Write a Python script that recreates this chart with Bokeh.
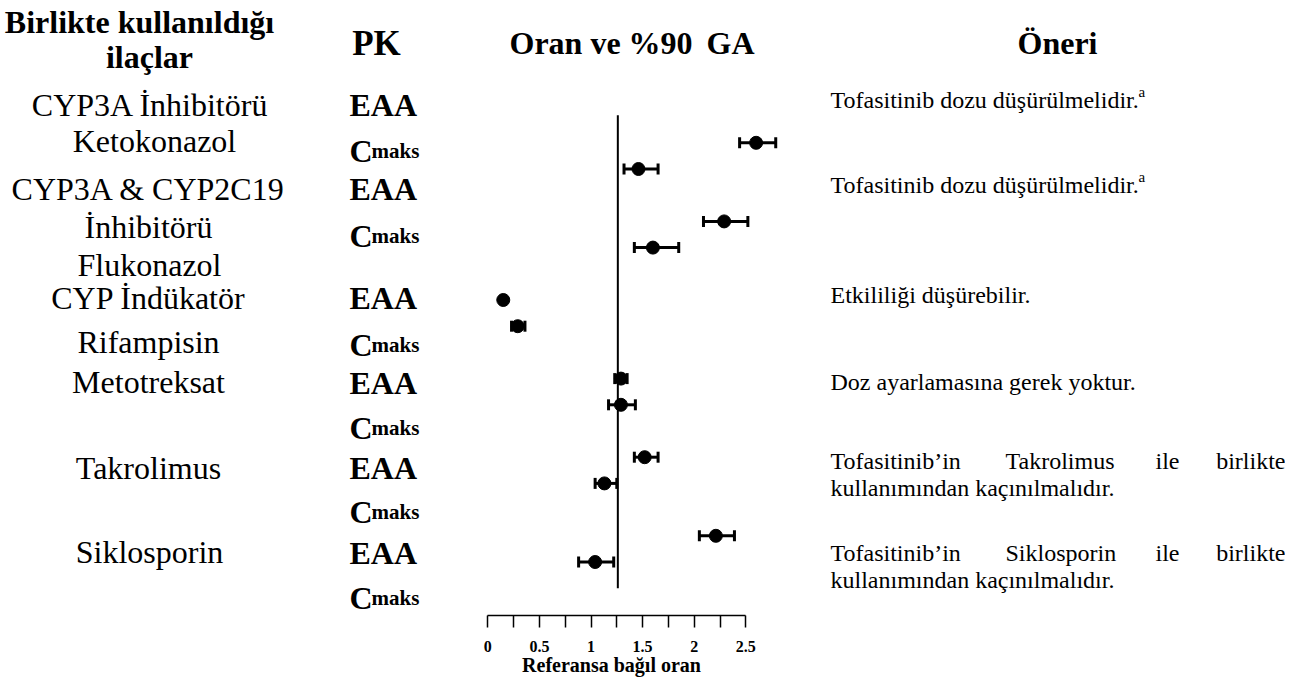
import numpy as np
from bokeh.plotting import figure
from bokeh.models import Range1d, LinearAxis, FixedTicker
from bokeh.core.properties import value
from bokeh.embed import file_html
from bokeh.resources import INLINE

# ---------------- data ----------------
drug_lines = ["CYP3A İnhibitörü", "Ketokonazol",
              "CYP3A & CYP2C19", "İnhibitörü", "Flukonazol",
              "CYP İndükatör", "Rifampisin",
              "Metotreksat", "Takrolimus", "Siklosporin"]
pk_names = ["EAA", "C"]
pk_sub = ["", "maks"]
row_group = [0, 0, 1, 1, 2, 2, 3, 3, 4, 4, 5, 5]
row_pk = [0, 1, 0, 1, 0, 1, 0, 1, 0, 1, 0, 1]
ratio = [2.60, 1.46, 2.29, 1.60, 0.15, 0.29, 1.29, 1.29, 1.52, 1.13, 2.21, 1.04]
ci_low = [2.44, 1.32, 2.09, 1.42, 0.13, 0.23, 1.23, 1.17, 1.42, 1.04, 2.05, 0.88]
ci_high = [2.79, 1.65, 2.52, 1.85, 0.17, 0.36, 1.35, 1.43, 1.65, 1.25, 2.39, 1.22]
reference_ratio = 1.26
ratio_ticks = [0, 0.25, 0.5, 0.75, 1, 1.25, 1.5, 1.75, 2, 2.25, 2.5]
ratio_tick_labels = ["0", "", "0.5", "", "1", "", "1.5", "", "2", "", "2.5"]
recommendations = ["Tofasitinib dozu düşürülmelidir.",
                   "Tofasitinib dozu düşürülmelidir.",
                   "Etkililiği düşürebilir.",
                   "Doz ayarlamasına gerek yoktur.",
                   "Tofasitinib’in Takrolimus ile birlikte kullanımından kaçınılmalıdır.",
                   "Tofasitinib’in Siklosporin ile birlikte kullanımından kaçınılmalıdır."]
rec_notes = ["a", "a", "", "", "", ""]
header_drug = ["Birlikte kullanıldığı", "ilaçlar"]
header_pk = "PK"
header_ratio = ["Oran ve %90", "GA"]
header_rec = "Öneri"
x_title = "Referansa bağıl oran"

# ---------------- layout (figure pixels) ----------------
FONT = value("Liberation Serif")
W, H = 1285, 679
FRAME_BOTTOM = 615
X0_PX, PX_PER_UNIT = 487.3, 103.2      # ratio axis
Y0_PX, SLOT_PX = 142.3, 26.2           # row slots

p = figure(width=W, height=H, output_backend="svg", toolbar_location=None,
           x_axis_type=None, y_axis_type=None,
           x_range=Range1d(0, W), y_range=Range1d(FRAME_BOTTOM, 0),
           min_border_left=0, min_border_right=0, min_border_top=0,
           min_border_bottom=H - FRAME_BOTTOM)
p.outline_line_color = None
p.background_fill_color = "white"
p.border_fill_color = "white"

p.extra_x_ranges = {"ratio": Range1d(-X0_PX / PX_PER_UNIT, (W - X0_PX) / PX_PER_UNIT)}
p.extra_y_ranges = {"slot": Range1d((FRAME_BOTTOM - Y0_PX) / SLOT_PX, -Y0_PX / SLOT_PX)}

slots = [3 * g + k for g, k in zip(row_group, row_pk)]

# reference line
p.segment(x0=[reference_ratio], x1=[reference_ratio],
          y0=[min(slots) - 1.05], y1=[max(slots) + 1.0],
          line_color="black", line_width=2,
          x_range_name="ratio", y_range_name="slot")
# CI bars
p.segment(x0=ci_low, x1=ci_high, y0=slots, y1=slots, line_color="black",
          line_width=3, x_range_name="ratio", y_range_name="slot")
p.scatter(x=ci_low + ci_high, y=slots + slots, marker="dash", angle=np.pi / 2,
          size=11, line_color="black", line_width=3,
          x_range_name="ratio", y_range_name="slot")
p.scatter(x=ratio, y=slots, marker="circle", size=13, fill_color="black",
          line_color="black", x_range_name="ratio", y_range_name="slot")

# axis
ax = LinearAxis(x_range_name="ratio", ticker=FixedTicker(ticks=ratio_ticks),
                bounds=(ratio_ticks[0], ratio_ticks[-1]))
ax.major_label_overrides = {t: l for t, l in zip(ratio_ticks, ratio_tick_labels)}
ax.axis_line_width = 1.5
ax.major_tick_line_width = 1.5
ax.major_tick_out = 12
ax.major_tick_in = 0
ax.minor_tick_out = 0
ax.minor_tick_in = 0
ax.major_label_standoff = 13
ax.major_label_text_align = "right"
ax.major_label_text_font = "Liberation Serif"
ax.major_label_text_font_style = "bold"
ax.major_label_text_font_size = "16px"
ax.major_label_text_color = "black"
p.add_layout(ax, "below")

# axis title (outside the frame)
p.text(x=[611], y=[664], text=[x_title], text_font=FONT, text_font_style="bold",
       text_font_size="20px", text_align="center", text_baseline="alphabetic",
       level="overlay")

# headers
p.text(x=[139, 149], y=[21, 56], text=header_drug, text_font=FONT,
       text_font_style="bold", text_font_size="32px", text_align="center",
       text_baseline="alphabetic")
p.text(x=[376], y=[43], text=[header_pk], text_font=FONT, text_font_style="bold",
       text_font_size="35px", text_align="center", text_baseline="alphabetic")
p.text(x=[1057], y=[42], text=[header_rec], text_font=FONT, text_font_style="bold",
       text_font_size="32px", text_align="center", text_baseline="alphabetic")
p.text(x=[509, 754], y=[42, 42], text=header_ratio, text_align=["left", "right"],
       text_font=FONT, text_font_style="bold", text_font_size="32px",
       text_baseline="alphabetic")

# drug column
drug_x = [150, 154, 148, 148, 149, 148, 148, 148, 148, 149]
drug_y = [104, 140, 188, 226, 264, 297, 341, 381, 467, 551]
p.text(x=drug_x, y=drug_y, text=drug_lines, text_font=FONT, text_font_size="32px",
       text_align="center", text_baseline="alphabetic")

# PK column
eaa_y = [104, 188, 297, 382, 467, 552]
cmax_y = [150, 235, 344, 427, 511, 597]
pk_y = [eaa_y[g] if k == 0 else cmax_y[g] for g, k in zip(row_group, row_pk)]
pk_txt = [pk_names[k] for k in row_pk]
p.text(x=[349] * len(pk_y), y=pk_y, text=pk_txt, text_font=FONT,
       text_font_style="bold", text_font_size="32px", text_align="left",
       text_baseline="alphabetic")
sub_y = [y for y, k in zip(pk_y, row_pk) if pk_sub[k]]
sub_t = [pk_sub[k] for k in row_pk if pk_sub[k]]
p.text(x=[371] * len(sub_y), y=sub_y, text=sub_t, text_font=FONT,
       text_font_style="bold", text_font_size="21px", text_align="left",
       text_baseline="alphabetic")

# recommendation column
REC_X, REC_RIGHT = 830, 1285
rec_y = [99, 184, 294, 381, 460, 552]
LINE2 = 27
just_x = [830, 1005, 1155]
for i, (txt, note) in enumerate(zip(recommendations, rec_notes)):
    words = txt.split(" ")
    if len(words) > 5:
        first, rest = words[:4], " ".join(words[4:])
        p.text(x=just_x, y=[rec_y[i]] * 3, text=first[:3], text_font=FONT,
               text_font_size="24px", text_align="left", text_baseline="alphabetic")
        p.text(x=[REC_RIGHT], y=[rec_y[i]], text=[first[3]], text_font=FONT,
               text_font_size="24px", text_align="right", text_baseline="alphabetic")
        p.text(x=[REC_X], y=[rec_y[i] + LINE2], text=[rest], text_font=FONT,
               text_font_size="24px", text_align="left", text_baseline="alphabetic")
    else:
        p.text(x=[REC_X], y=[rec_y[i]], text=[txt], text_font=FONT,
               text_font_size="24px", text_align="left", text_baseline="alphabetic")
    if note:
        p.text(x=[1138], y=[rec_y[i] - 8], text=[note], text_font=FONT,
               text_font_size="15px", text_align="left", text_baseline="alphabetic")

open("out.html", "w").write(file_html(p, INLINE))
